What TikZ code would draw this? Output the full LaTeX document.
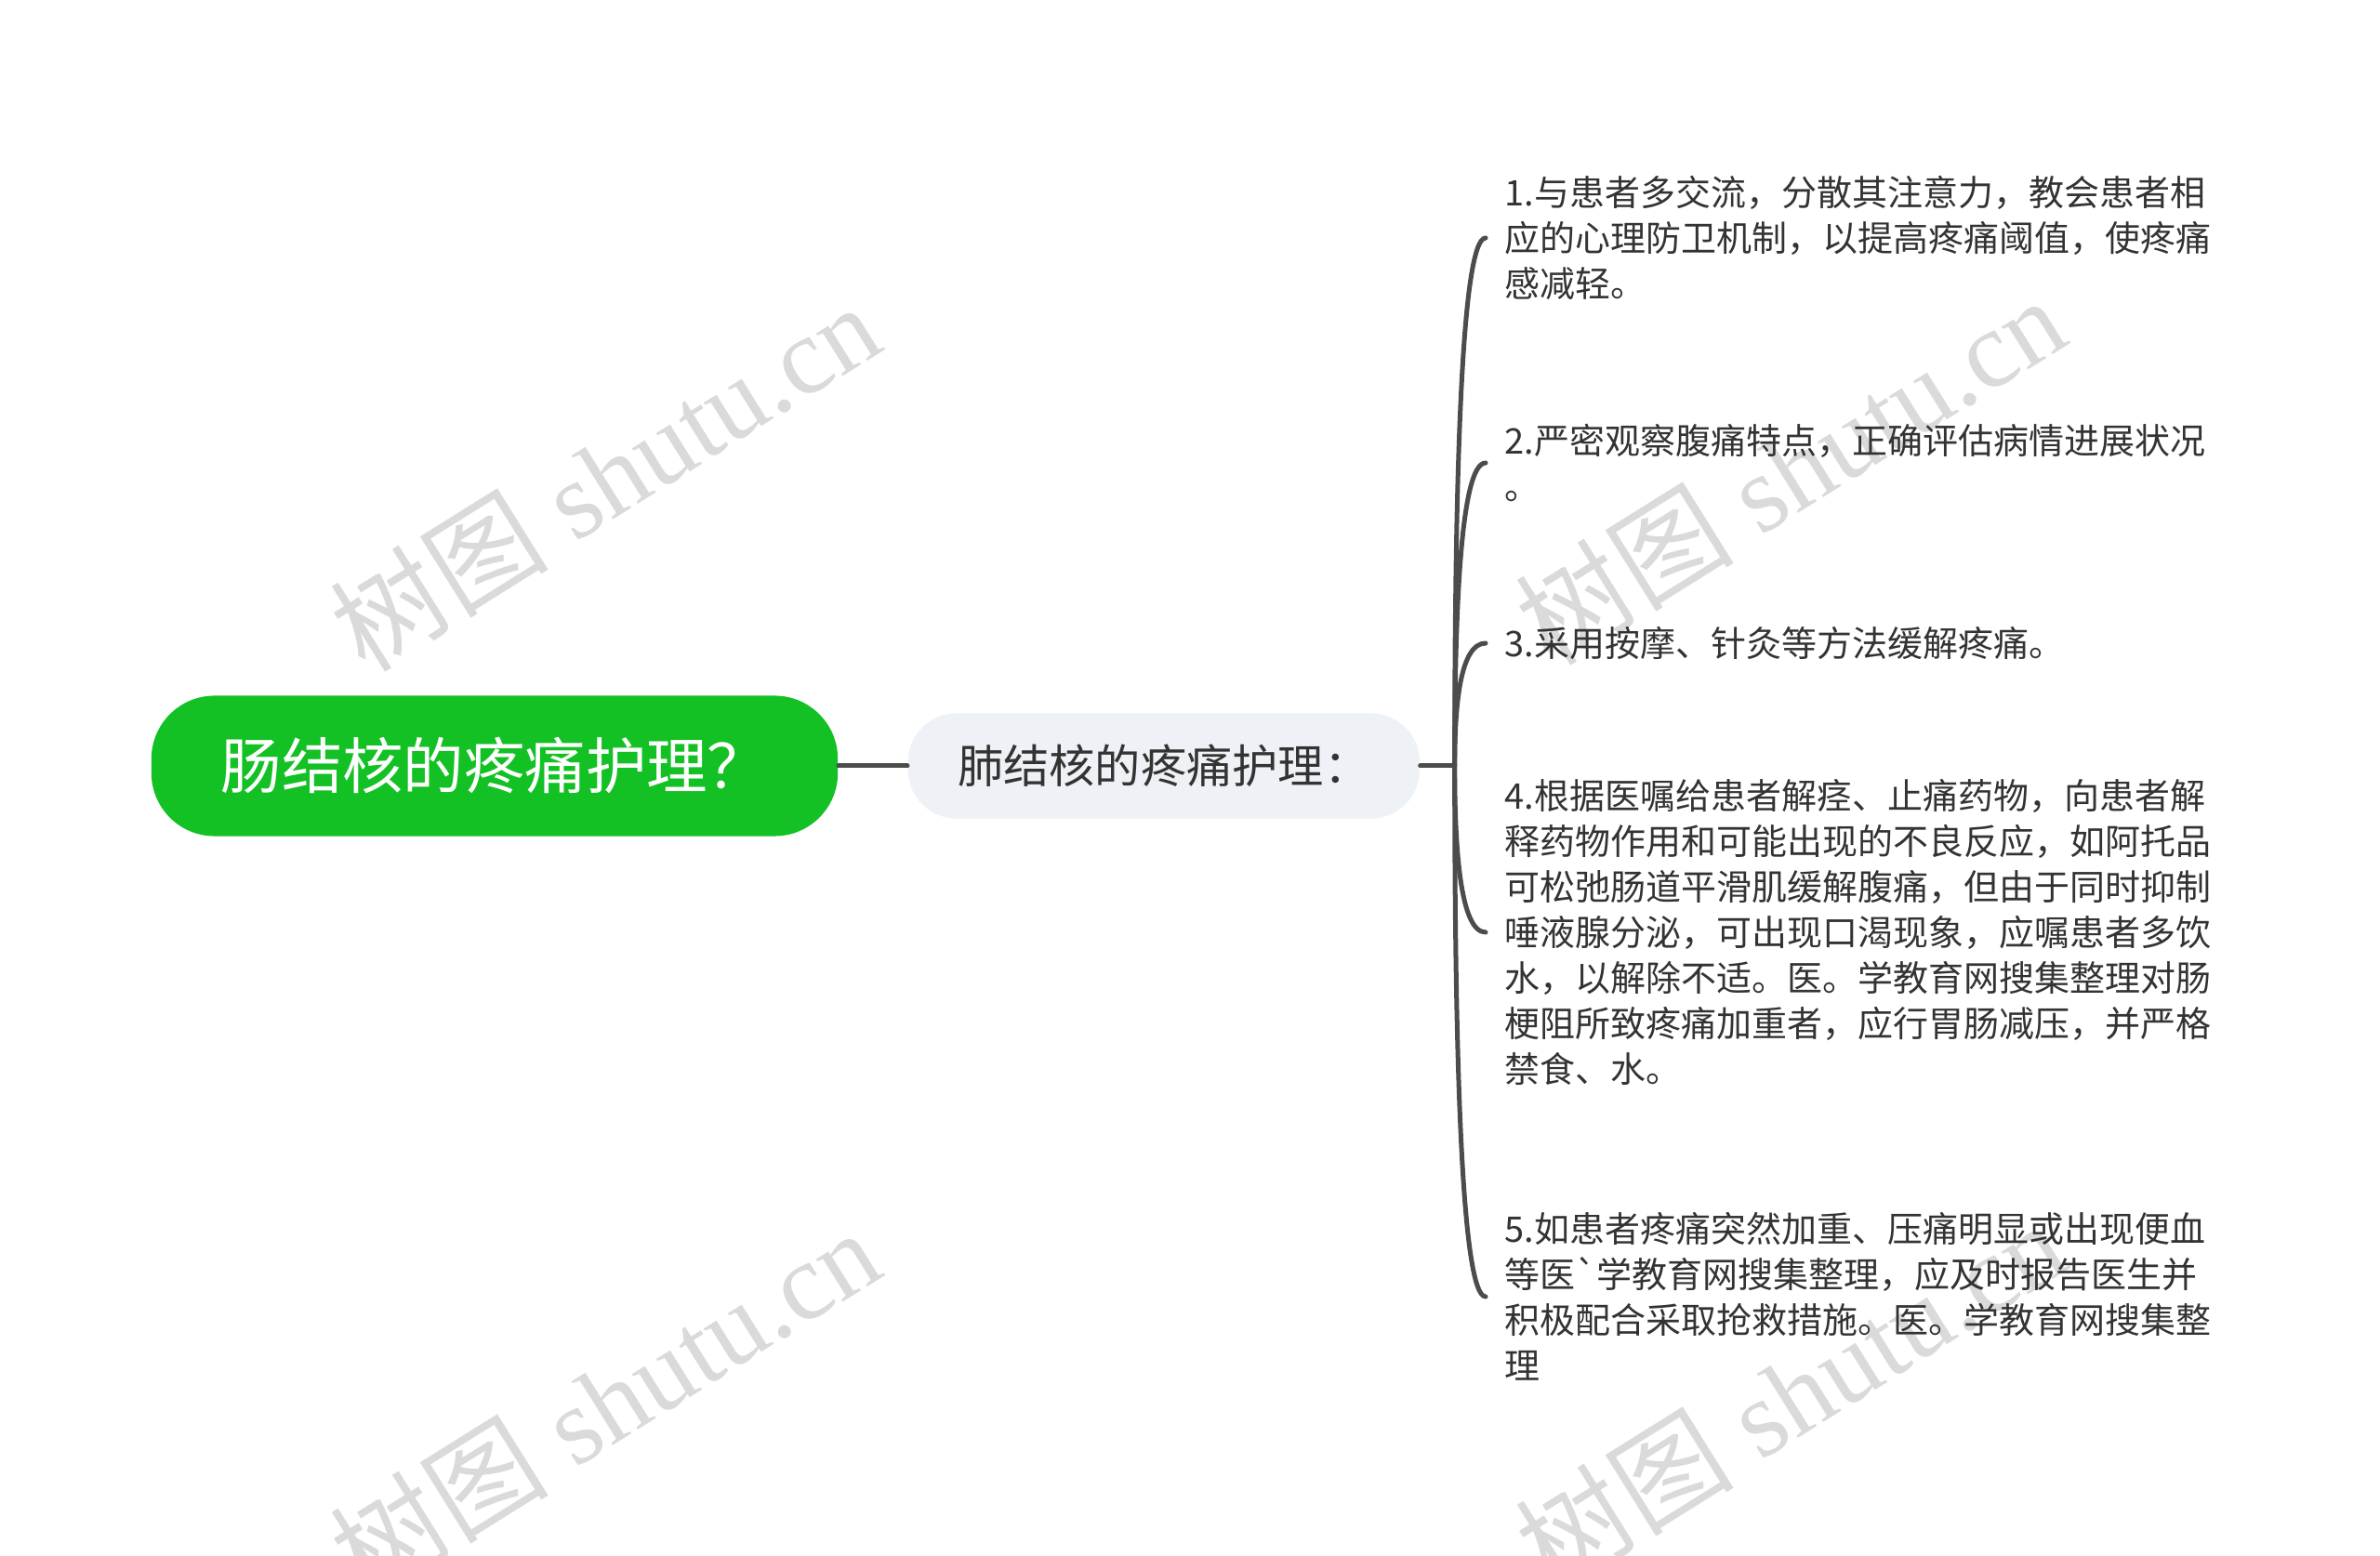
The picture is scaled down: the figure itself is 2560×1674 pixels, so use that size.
\documentclass[tikz,border=0pt]{standalone}
\usepackage{fontspec}
\newfontfamily\cjk{Noto Sans CJK SC}
\newfontfamily\wmserif{Liberation Serif}
\usetikzlibrary{positioning, calc}
\definecolor{rootgreen}{HTML}{13C124}
\definecolor{topicgray}{HTML}{EEF1F5}
\definecolor{linegray}{HTML}{4A4D4A}
\definecolor{textdark}{HTML}{333333}
\definecolor{markgray}{HTML}{DADADA}
\tikzset{
  root/.style={rectangle, rounded corners=0.68cm, minimum width=7.38cm, minimum height=1.51cm, text centered, fill=rootgreen, text=white, font=\cjk\fontsize{18.6pt}{22pt}\selectfont},
  topic/.style={rectangle, rounded corners=0.52cm, minimum width=5.5cm, minimum height=1.13cm, text centered, fill=topicgray, text=textdark, font=\cjk\fontsize{14pt}{17pt}\selectfont},
  leaf/.style={anchor=west, align=left, inner xsep=0.2cm, text=textdark, font=\cjk\fontsize{10.8pt}{13.95pt}\selectfont},
  branch/.style={draw=linegray, line width=0.05cm, line cap=round},
  watermark/.style={rotate=32, text=markgray, font=\wmserif\fontsize{33.5pt}{36pt}\selectfont}
}

\begin{document}
\begin{tikzpicture}[x=0.01cm, y=-0.01cm]
\useasboundingbox (0,0) rectangle (2560,1674);

% Watermarks
\foreach \i/\p in {1/{(650,512)}, 2/{(1925,505)}, 3/{(650,1508)}, 4/{(1925,1500)}}
  \node (wm\i) [watermark] at \p {{\cjk 树图} shutu.cn};

% Nodes
\node (root) [root] at (532,824) {肠结核的疼痛护理？};
\node (topic) [topic, right=0.74cm of root] {肺结核的疼痛护理：};
\coordinate (jn) at ($(topic.east)+(37,0)$);

\node (l1) [leaf] at (1598,256) {1.与患者多交流，分散其注意力，教会患者相\\应的心理防卫机制，以提高疼痛阈值，使疼痛\\感减轻。};
\node (l2) [leaf] at (1598,498) {2.严密观察腹痛特点，正确评估病情进展状况\\。};
\node (l3) [leaf] at (1598,692) {3.采用按摩、针灸等方法缓解疼痛。};
\node (l4) [leaf] at (1598,1003) {4.根据医嘱给患者解痉、止痛药物，向患者解\\释药物作用和可能出现的不良反应，如阿托品\\可松弛肠道平滑肌缓解腹痛，但由于同时抑制\\唾液腺分泌，可出现口渴现象，应嘱患者多饮\\水，以解除不适。医。学教育网搜集整理对肠\\梗阻所致疼痛加重者，应行胃肠减压，并严格\\禁食、水。};
\node (l5) [leaf] at (1598,1395) {5.如患者疼痛突然加重、压痛明显或出现便血\\等医`学教育网搜集整理，应及时报告医生并\\积极配合采取抢救措施。医。学教育网搜集整\\理};

% Connectors
\draw [branch] (root) -- (topic);
\draw [branch] (topic.east) -- (jn);
\foreach \n in {l1,l2,l3,l4,l5}
  \draw [branch] (jn) .. controls ($(jn)!0.5!(jn |- \n.west)$) and ($(jn |- \n.west)+(6,0)$) .. (\n.west);
\end{tikzpicture}
\end{document}
